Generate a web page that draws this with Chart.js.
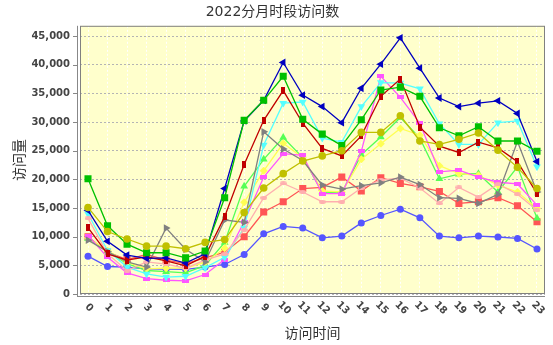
<!DOCTYPE html>
<html>
<head>
<meta charset="utf-8">
<script src="https://cdn.jsdelivr.net/npm/chart.js@4.4.1/dist/chart.umd.min.js"></script>
<style>
  body { margin: 0; background: #fff; }
</style>
</head>
<body>
<canvas id="chart" width="553" height="345"></canvas>
<script>
// hours of the day (x categories)
var hours = [0, 1, 2, 3, 4, 5, 6, 7, 8, 9, 10, 11, 12, 13, 14, 15, 16, 17, 18, 19, 20, 21, 22, 23];
var months = ['1月', '2月', '3月', '4月', '5月', '6月', '7月', '8月', '9月', '10月', '11月', '12月'];
var yTicks = [0, 5000, 10000, 15000, 20000, 25000, 30000, 35000, 40000, 45000];

// visits per hour, one array per month
var jan = [10000, 7300, 6000, 6900, 5900, 5300, 6300, 7300, 10000, 14300, 16100, 18400, 18600, 20400, 18000, 20300, 19300, 18700, 17900, 15800, 16100, 16800, 15400, 12600];
var feb = [6600, 4800, 4700, 4400, 4350, 4300, 4700, 5150, 6900, 10500, 11800, 11500, 9800, 10100, 12400, 13700, 14800, 13300, 10100, 9800, 10100, 9950, 9700, 7850];
var mar = [9700, 7400, 5300, 4100, 3900, 3700, 5000, 9000, 18800, 23500, 27300, 23800, 17800, 17700, 24300, 27400, 30800, 27200, 20100, 20900, 21000, 17800, 22200, 13200];
var apr = [9800, 7600, 5500, 4400, 4500, 4500, 5500, 8000, 16000, 21500, 26300, 23800, 18000, 17800, 23500, 26200, 28900, 27700, 22400, 21000, 20700, 19000, 17800, 14900];
var may = [10200, 6400, 3700, 2700, 2400, 2300, 3400, 6000, 12600, 20400, 24500, 24200, 17500, 17500, 24900, 38000, 34300, 29800, 21300, 21600, 20400, 19500, 19200, 15500];
var jun = [14000, 7600, 4700, 3500, 2950, 3100, 4600, 6400, 11500, 26000, 33300, 33500, 27200, 26500, 32700, 36900, 36800, 35800, 29700, 26100, 26100, 29900, 30200, 22200];
var jul = [13200, 7000, 4100, 5600, 5200, 4500, 5900, 7000, 11200, 16800, 19300, 17800, 16100, 16100, 18500, 19900, 20200, 18500, 15800, 18600, 16900, 19200, 17400, 14600];
var aug = [9400, 7400, 5600, 4700, 11500, 7800, 5600, 12900, 12500, 28300, 25300, 23300, 19000, 18300, 18900, 19400, 20400, 19100, 16800, 16700, 15800, 17400, 26600, 17800];
var sep = [11600, 7000, 5900, 6500, 5800, 4900, 6600, 13500, 22600, 30300, 35500, 29800, 25400, 24100, 27600, 34500, 37500, 29100, 25800, 24700, 26500, 25500, 23100, 17500];
var oct = [14600, 9200, 6800, 6200, 6300, 5400, 7000, 18400, 30200, 33800, 40400, 34700, 32700, 29900, 35900, 40100, 44700, 39400, 34200, 32700, 33300, 33700, 31500, 23100];
var nov = [20100, 11900, 8700, 7200, 7200, 6300, 7500, 16800, 30300, 33800, 38000, 30500, 27900, 25900, 30400, 35600, 36100, 34500, 29000, 27600, 29200, 26700, 26700, 24900];
var dec = [15100, 10900, 9600, 8350, 8350, 7900, 9000, 9500, 14200, 18500, 21000, 23200, 24100, 25000, 28200, 28200, 31100, 26700, 26100, 27000, 28100, 25100, 22100, 18400];

var series = [jan, feb, mar, apr, may, jun, jul, aug, sep, oct, nov, dec];

// small filled shapes for the markers chart.js has no style for
function shape(w, h, color, ellipse) {
    var c = document.createElement('canvas');
    c.width = w;
    c.height = h;
    var g = c.getContext('2d');
    g.fillStyle = color;
    if (ellipse) {
        g.beginPath();
        g.ellipse(w / 2, h / 2, w / 2, h / 2, 0, 0, Math.PI * 2);
        g.fill();
    } else {
        g.fillRect(0, 0, w, h);
    }
    return c;
}

var styles = [
    { color: '#FF5555', point: 'rect', r: 5, rot: 0 },
    { color: '#5555FF', point: 'circle', r: 3.5, rot: 0 },
    { color: '#55FF55', point: 'triangle', r: 4.5, rot: 0 },
    { color: '#FFFF55', point: 'rectRot', r: 4, rot: 0 },
    { color: '#FF55FF', point: shape(7, 4, '#FF55FF'), r: 4, rot: 0 },
    { color: '#55FFFF', point: 'triangle', r: 4.5, rot: 180 },
    { color: '#FFAFAF', point: shape(7, 4, '#FFAFAF', true), r: 4, rot: 0 },
    { color: '#808080', point: 'triangle', r: 4.5, rot: 90 },
    { color: '#C00000', point: shape(4, 7, '#C00000'), r: 4, rot: 0 },
    { color: '#0000C0', point: 'triangle', r: 4.5, rot: 270 },
    { color: '#00C000', point: 'rect', r: 5, rot: 0 },
    { color: '#C0C000', point: 'circle', r: 3.8, rot: 0 }
];

var datasets = series.map(function (vals, i) {
    var st = styles[i];
    return {
        label: months[i],
        data: vals.map(function (v, j) { return { x: hours[j], y: v }; }),
        borderColor: st.color,
        backgroundColor: st.color,
        borderWidth: 1.3,
        pointStyle: st.point,
        pointRadius: st.r,
        pointRotation: st.rot,
        pointBorderWidth: 0,
        pointBackgroundColor: st.color,
        tension: 0,
        order: 11 - i
    };
});

var tickFont = 'bold 10px "DejaVu Sans", sans-serif';

var frame = {
    id: 'frame',
    beforeDraw: function (chart) {
        var ctx = chart.ctx, a = chart.chartArea;
        ctx.save();
        ctx.fillStyle = '#FFFFCC';
        ctx.fillRect(a.left, a.top, a.right - a.left, a.bottom - a.top);
        ctx.restore();
    },
    afterDraw: function (chart) {
        var ctx = chart.ctx, a = chart.chartArea, sx = chart.scales.x, sy = chart.scales.y;
        ctx.save();
        ctx.strokeStyle = '#808080';
        ctx.lineWidth = 1;
        ctx.strokeRect(a.left + 0.5, a.top + 0.5, a.right - a.left - 1, a.bottom - a.top - 1);

        // axis lines, set a little off the plot
        ctx.strokeStyle = '#888';
        ctx.beginPath();
        ctx.moveTo(a.left - 2.5, a.top);
        ctx.lineTo(a.left - 2.5, a.bottom + 3);
        ctx.moveTo(a.left - 3, a.bottom + 2.5);
        ctx.lineTo(a.right, a.bottom + 2.5);
        yTicks.forEach(function (v) {
            var y = Math.round(sy.getPixelForValue(v)) + 0.5;
            ctx.moveTo(a.left - 7, y);
            ctx.lineTo(a.left - 2.5, y);
        });
        ctx.stroke();

        // rotated hour labels
        ctx.font = tickFont;
        ctx.fillStyle = '#444';
        ctx.textAlign = 'center';
        ctx.textBaseline = 'middle';
        hours.forEach(function (h) {
            var x = sx.getPixelForValue(h);
            ctx.save();
            ctx.translate(x + 1, a.bottom + 14);
            ctx.rotate(Math.PI / 4);
            ctx.fillText(String(h), 0, 0);
            ctx.restore();
        });
        ctx.restore();
    }
};

new Chart(document.getElementById('chart'), {
    type: 'line',
    data: { datasets: datasets },
    plugins: [frame],
    options: {
        responsive: false,
        animation: false,
        events: [],
        layout: { padding: { left: 0, right: 8, top: 0, bottom: 0 } },
        plugins: {
            legend: { display: false },
            tooltip: { enabled: false },
            title: {
                display: true,
                text: '2022分月时段访问数',
                color: '#333',
                font: { family: '"DejaVu Sans", "Noto Sans CJK SC", sans-serif', size: 14, weight: 'normal' },
                padding: { top: 4, bottom: 5 }
            }
        },
        scales: {
            x: {
                type: 'linear',
                min: -0.41,
                max: 23.41,
                afterBuildTicks: function (s) {
                    s.ticks = hours.map(function (h) { return { value: h }; });
                },
                afterFit: function (s) { s.height = 51; },
                ticks: { display: false },
                grid: { color: '#FFFFFF', lineWidth: 1, drawTicks: false },
                border: { display: false, dash: [2, 2] },
                title: {
                    display: true,
                    text: '访问时间',
                    color: '#333',
                    font: { family: '"Noto Sans CJK SC", sans-serif', size: 14 },
                    padding: { top: 0, bottom: 4 }
                }
            },
            y: {
                type: 'linear',
                min: 0,
                max: 46800,
                afterBuildTicks: function (s) {
                    s.ticks = yTicks.map(function (v) { return { value: v }; });
                },
                afterFit: function (s) { s.width = 80; },
                ticks: {
                    padding: 10,
                    autoSkip: false,
                    color: '#444',
                    font: { family: '"DejaVu Sans", sans-serif', size: 10, weight: 'bold' },
                    callback: function (v) { return Number(v).toLocaleString('en-US'); }
                },
                grid: { color: '#B4B4B4', lineWidth: 1, drawTicks: false },
                border: { display: false, dash: [2, 2] },
                title: {
                    display: true,
                    text: '访问量',
                    color: '#333',
                    font: { family: '"Noto Sans CJK SC", sans-serif', size: 14 },
                    padding: { top: 10, bottom: 0 }
                }
            }
        }
    }
});
</script>
</body>
</html>
